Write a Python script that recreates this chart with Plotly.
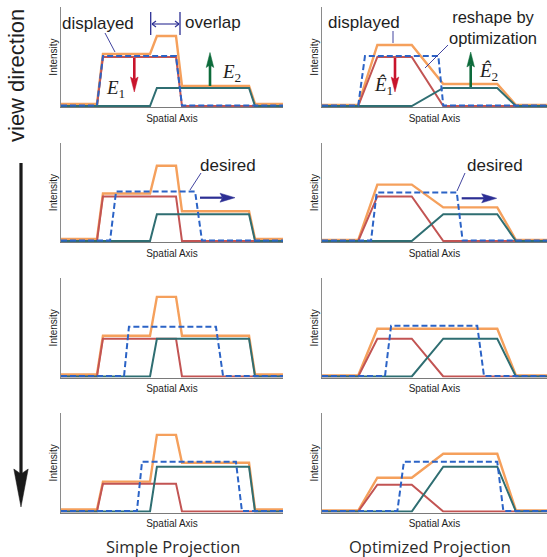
import plotly.graph_objects as go

W, H = 547, 557

# ---------------- data ----------------
# spatial positions (0..100) of the breakpoints, per column
x_red_L = [0, 16.2, 18.9, 51.8, 54.5, 100]
x_teal_L = [0, 40.1, 43.2, 84.7, 87.4, 100]
x_orange_L = [0, 16.2, 18.9, 40.1, 43.2, 51.8, 54.5, 84.7, 87.4, 100]
x_blue_L = [
    [0, 16.2, 18.9, 51.8, 54.5, 100],
    [0, 22.1, 24.8, 60.4, 63.5, 100],
    [0, 28.4, 30.6, 69.8, 73.0, 100],
    [0, 34.2, 36.5, 78.8, 81.5, 100],
]
y_red_L = [
    [0.01, 0.01, 0.50, 0.50, 0.01, 0.01],
    [0.01, 0.01, 0.46, 0.46, 0.01, 0.01],
    [0.01, 0.01, 0.39, 0.39, 0.01, 0.01],
    [0.01, 0.01, 0.29, 0.29, 0.01, 0.01],
]
y_teal_L = [
    [0.01, 0.01, 0.19, 0.19, 0.01, 0.01],
    [0.01, 0.01, 0.28, 0.28, 0.01, 0.01],
    [0.01, 0.01, 0.39, 0.39, 0.01, 0.01],
    [0.01, 0.01, 0.46, 0.46, 0.01, 0.01],
]
y_orange_L = [
    [0.03, 0.03, 0.53, 0.53, 0.71, 0.71, 0.21, 0.21, 0.03, 0.03],
    [0.03, 0.03, 0.49, 0.49, 0.77, 0.77, 0.31, 0.31, 0.03, 0.03],
    [0.03, 0.03, 0.42, 0.42, 0.81, 0.81, 0.42, 0.42, 0.03, 0.03],
    [0.03, 0.03, 0.31, 0.31, 0.78, 0.78, 0.50, 0.50, 0.03, 0.03],
]
y_blue_L = [
    [0.015, 0.015, 0.51, 0.51, 0.015, 0.015],
    [0.015, 0.015, 0.51, 0.51, 0.015, 0.015],
    [0.015, 0.015, 0.51, 0.51, 0.015, 0.015],
    [0.015, 0.015, 0.51, 0.51, 0.015, 0.015],
]

x_red_R = [0, 16.1, 24.6, 39.9, 53.9, 100]
x_teal_R = [0, 39.9, 53.9, 77.9, 86.2, 100]
x_orange_R = [0, 16.1, 24.6, 39.9, 53.9, 77.9, 86.2, 100]
x_blue_R = [
    [0, 16.1, 19.1, 51.7, 53.9, 100],
    [0, 21.8, 24.3, 59.9, 62.5, 100],
    [0, 28.0, 30.7, 69.0, 72.0, 100],
    [0, 33.5, 36.4, 77.9, 80.6, 100],
]
y_red_R = [
    [0.01, 0.01, 0.50, 0.50, 0.01, 0.01],
    [0.01, 0.01, 0.46, 0.46, 0.01, 0.01],
    [0.01, 0.01, 0.39, 0.39, 0.01, 0.01],
    [0.01, 0.01, 0.28, 0.28, 0.01, 0.01],
]
y_teal_R = [
    [0.01, 0.01, 0.19, 0.19, 0.01, 0.01],
    [0.01, 0.01, 0.28, 0.28, 0.01, 0.01],
    [0.01, 0.01, 0.39, 0.39, 0.01, 0.01],
    [0.01, 0.01, 0.46, 0.46, 0.01, 0.01],
]
y_orange_R = [
    [0.02, 0.02, 0.62, 0.62, 0.23, 0.23, 0.02, 0.02],
    [0.02, 0.02, 0.58, 0.58, 0.35, 0.35, 0.02, 0.02],
    [0.02, 0.02, 0.49, 0.49, 0.49, 0.49, 0.02, 0.02],
    [0.02, 0.02, 0.35, 0.35, 0.59, 0.59, 0.02, 0.02],
]
y_blue_R = [
    [0.015, 0.015, 0.51, 0.51, 0.015, 0.015],
    [0.015, 0.015, 0.50, 0.50, 0.015, 0.015],
    [0.015, 0.015, 0.52, 0.52, 0.015, 0.015],
    [0.015, 0.015, 0.51, 0.51, 0.015, 0.015],
]

column_titles = ["Simple Projection", "Optimized Projection"]
x_title = "Spatial Axis"
y_title = "Intensity"

# ---------------- styling ----------------
C_ORANGE = "#f5a05c"
C_RED = "#c25453"
C_TEAL = "#2f6e72"
C_BLUE = "#2b63c6"
C_NAVY = "#2c2f94"
C_ARROW_RED = "#c8142c"
C_ARROW_GREEN = "#0d6b3b"
TXT = "#1e1e1e"


def px(x):
    return x / W


def py(y):
    return 1 - y / H


# panel pixel boxes
col_x = [(61, 283), (322, 547)]
row_y = [(7, 107), (143, 242), (278, 377.5), (413, 512.5)]

fig = go.Figure()
layout = dict(
    width=W, height=H,
    margin=dict(l=0, r=0, t=0, b=0),
    paper_bgcolor="white", plot_bgcolor="white",
    showlegend=False,
)

series_sets = [
    (x_orange_L, y_orange_L, x_red_L, y_red_L, x_teal_L, y_teal_L, x_blue_L, y_blue_L),
    (x_orange_R, y_orange_R, x_red_R, y_red_R, x_teal_R, y_teal_R, x_blue_R, y_blue_R),
]

axis_font = dict(family="Liberation Sans", size=10, color=TXT)
idx = 0
for r in range(4):
    for c in range(2):
        idx += 1
        xa = "x" if idx == 1 else f"x{idx}"
        ya = "y" if idx == 1 else f"y{idx}"
        xk = "xaxis" if idx == 1 else f"xaxis{idx}"
        yk = "yaxis" if idx == 1 else f"yaxis{idx}"
        x0, x1 = col_x[c]
        yt, yb = row_y[r]
        layout[xk] = dict(domain=[px(x0), px(x1)], range=[0, 100], anchor=ya,
                          showgrid=False, zeroline=False, showticklabels=False,
                          ticks="", showline=True, linecolor="#7a7a7a", linewidth=1,
                          fixedrange=True,
                          title=dict(text=x_title, font=axis_font, standoff=7))
        layout[yk] = dict(domain=[py(yb), py(yt)], range=[0, 1], anchor=xa,
                          showgrid=False, zeroline=False, showticklabels=False,
                          ticks="", showline=True, linecolor="#8a8a8a", linewidth=1,
                          fixedrange=True,
                          title=dict(text=y_title, font=axis_font, standoff=0))
        xo, yo, xr, yr, xt, yt_, xb, yb_ = series_sets[c]
        fig.add_trace(go.Scatter(x=xo, y=yo[r], mode="lines", xaxis=xa, yaxis=ya,
                                 line=dict(color=C_ORANGE, width=2.4)))
        fig.add_trace(go.Scatter(x=xr, y=yr[r], mode="lines", xaxis=xa, yaxis=ya,
                                 line=dict(color=C_RED, width=2)))
        fig.add_trace(go.Scatter(x=xt, y=yt_[r], mode="lines", xaxis=xa, yaxis=ya,
                                 line=dict(color=C_TEAL, width=2)))
        fig.add_trace(go.Scatter(x=xb[r], y=yb_[r], mode="lines", xaxis=xa, yaxis=ya,
                                 line=dict(color=C_BLUE, width=2, dash="6px,3px")))

fig.update_layout(**layout)


def text(t, x, y, size=17, family="Liberation Sans", color=TXT, angle=0):
    fig.add_annotation(text=t, x=px(x), y=py(y), xref="paper", yref="paper",
                       showarrow=False, xanchor="center", yanchor="middle",
                       textangle=angle, font=dict(family=family, size=size, color=color))


def seg(xa, ya, xb, yb, color=C_NAVY, width=0.9):
    fig.add_shape(type="line", xref="paper", yref="paper",
                  x0=px(xa), y0=py(ya), x1=px(xb), y1=py(yb),
                  line=dict(color=color, width=width))


def poly(pts, color):
    d = "M " + " L ".join(f"{px(a):.5f},{py(b):.5f}" for a, b in pts) + " Z"
    fig.add_shape(type="path", xref="paper", yref="paper", path=d,
                  fillcolor=color, line=dict(color=color, width=0.5))


def varrow(x, y_start, y_tip, color, width=2.6, head=15, half=3.8, notch=2.5):
    s = 1 if y_tip > y_start else -1
    base = y_tip - s * head
    seg(x, y_start, x, base + s * notch, color, width)
    poly([(x, y_tip), (x - half, base), (x, base + s * notch), (x + half, base)], color)


def harrow(y, x_start, x_tip, color, width=2.2, head=15, half=4.5, notch=2.5):
    s = 1 if x_tip > x_start else -1
    base = x_tip - s * head
    seg(x_start, y, base + s * notch, y, color, width)
    poly([(x_tip, y), (base, y - half), (base + s * notch, y), (base, y + half)], color)


# view direction
text("view direction", 16, 76, size=22, angle=-90)
varrow(21, 163, 507, "#1a1a1a", width=3.2, head=38, half=7.2, notch=5)

# column captions
text(column_titles[0], 172.5, 546, size=16.5, family="Open Sans", color="#2a2a2a")
text(column_titles[1], 430, 546, size=16.5, family="Open Sans", color="#2a2a2a")

# row 1 left
text("displayed", 97.5, 24)
seg(105, 33, 115, 52)
text("overlap", 213, 23)
seg(150.7, 12, 150.7, 35, C_NAVY, 1.3)
seg(180, 12, 180, 35, C_NAVY, 1.3)
seg(152, 24, 179, 24, C_NAVY, 1.1)
seg(152, 24, 156, 21, C_NAVY, 1.1)
seg(152, 24, 156, 27, C_NAVY, 1.1)
seg(179, 24, 175, 21, C_NAVY, 1.1)
seg(179, 24, 175, 27, C_NAVY, 1.1)
varrow(134.3, 58, 92, C_ARROW_RED)
varrow(210, 86, 52.5, C_ARROW_GREEN)
text("<i>E</i><sub>1</sub>", 116, 89, size=19, family="Liberation Serif")
text("<i>E</i><sub>2</sub>", 232, 73, size=19, family="Liberation Serif")

# row 1 right
text("displayed", 364, 23)
seg(393, 31, 393, 43)
text("reshape by<br>optimization", 493, 27, size=16.5)
seg(448, 45, 425, 68)
varrow(395, 58, 92, C_ARROW_RED)
varrow(470.7, 87, 52, C_ARROW_GREEN)
text("<i>Ê</i><sub>1</sub>", 383, 86, size=19, family="Liberation Serif")
text("<i>Ê</i><sub>2</sub>", 488, 72, size=19, family="Liberation Serif")

# row 2
text("desired", 228, 166)
seg(201, 173, 190, 190)
harrow(197.7, 200, 235, C_NAVY)
text("desired", 495, 166)
seg(465, 173, 457, 191)
harrow(198.3, 461.7, 496.7, C_NAVY)

fig.write_html("out.html", config={"displayModeBar": False},
               post_script="document.body.style.margin='0';")
